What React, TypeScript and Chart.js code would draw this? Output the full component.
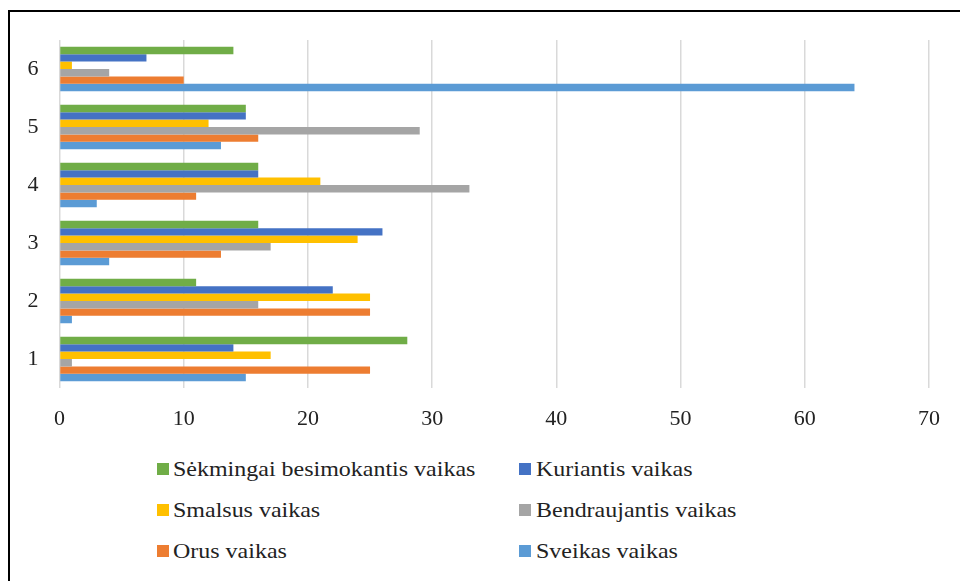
import React, { useEffect, useRef } from 'react';
import { Chart, registerables } from 'chart.js';

Chart.register(...registerables);

const categories = ['1', '2', '3', '4', '5', '6'];
const sekmingai = [28, 11, 16, 16, 15, 14];
const kuriantis = [14, 22, 26, 16, 15, 7];
const smalsus = [17, 25, 24, 21, 12, 1];
const bendraujantis = [1, 16, 17, 33, 29, 4];
const orus = [25, 25, 13, 11, 16, 10];
const sveikas = [15, 1, 4, 3, 13, 64];
const xMin = 0;
const xMax = 70;
const xStep = 10;

const seriesNames = [
  'Sėkmingai besimokantis vaikas',
  'Kuriantis vaikas',
  'Smalsus vaikas',
  'Bendraujantis vaikas',
  'Orus vaikas',
  'Sveikas vaikas',
];
const seriesColors = ['#70AD47', '#4472C4', '#FFC000', '#A5A5A5', '#ED7D31', '#5B9BD5'];
const seriesValues = [sekmingai, kuriantis, smalsus, bendraujantis, orus, sveikas];

const FONT = '"Liberation Serif", Tinos, "Times New Roman", "DejaVu Serif", serif';

export default function App() {
  const ref = useRef<HTMLCanvasElement | null>(null);

  useEffect(() => {
    if (!ref.current) return;
    const chart = new Chart(ref.current, {
      type: 'bar',
      data: {
        labels: categories,
        datasets: seriesNames.map((name, i) => ({
          label: name,
          data: seriesValues[i],
          backgroundColor: seriesColors[i],
          borderWidth: 0,
          barPercentage: 1,
          categoryPercentage: 0.766,
        })),
      },
      options: {
        indexAxis: 'y',
        responsive: false,
        animation: false,
        devicePixelRatio: 1,
        layout: { padding: { top: 40, right: 31, left: 0, bottom: 0 } },
        plugins: { legend: { display: false }, tooltip: { enabled: false } },
        scales: {
          x: {
            min: xMin,
            max: xMax,
            ticks: {
              stepSize: xStep,
              color: '#222',
              font: { family: FONT, size: 22 },
              padding: 18,
            },
            grid: { color: '#d9d9d9', lineWidth: 1.5, drawTicks: false },
            border: { display: false },
            afterFit: (s: any) => {
              s.height = 52;
            },
          },
          y: {
            type: 'category',
            reverse: true,
            ticks: {
              color: '#222',
              font: { family: FONT, size: 22 },
              padding: 21,
            },
            grid: { display: false, drawTicks: false },
            border: { display: false },
            afterFit: (s: any) => {
              s.width = 59.5;
            },
          },
        },
      },
    });
    return () => chart.destroy();
  }, []);

  const rowCenters = [468.5, 510, 551];
  const colMarkerX = [157, 519];
  const colTextX = [173, 536];

  return (
    <div
      style={{
        position: 'fixed',
        left: 0,
        top: 0,
        width: 960,
        height: 581,
        background: '#fff',
        overflow: 'hidden',
      }}
    >
      <div
        style={{
          position: 'absolute',
          left: 8,
          top: 10,
          width: 960,
          height: 600,
          borderTop: '2px solid #000',
          borderLeft: '2px solid #000',
        }}
      />
      <canvas
        ref={ref}
        width={960}
        height={440}
        style={{ position: 'absolute', left: 0, top: 0, width: 960, height: 440 }}
      />
      {seriesNames.map((name, i) => {
        const row = Math.floor(i / 2);
        const col = i % 2;
        const cy = rowCenters[row];
        return (
          <React.Fragment key={name}>
            <div
              style={{
                position: 'absolute',
                left: colMarkerX[col],
                top: cy - 6,
                width: 12,
                height: 12,
                background: seriesColors[i],
              }}
            />
            <div
              style={{
                position: 'absolute',
                left: colTextX[col],
                top: cy - 15,
                height: 30,
                lineHeight: '30px',
                fontFamily: FONT,
                fontSize: 22,
                color: '#222',
                whiteSpace: 'nowrap',
                transform: 'scaleX(1.09)',
                transformOrigin: 'left center',
              }}
            >
              {name}
            </div>
          </React.Fragment>
        );
      })}
    </div>
  );
}
